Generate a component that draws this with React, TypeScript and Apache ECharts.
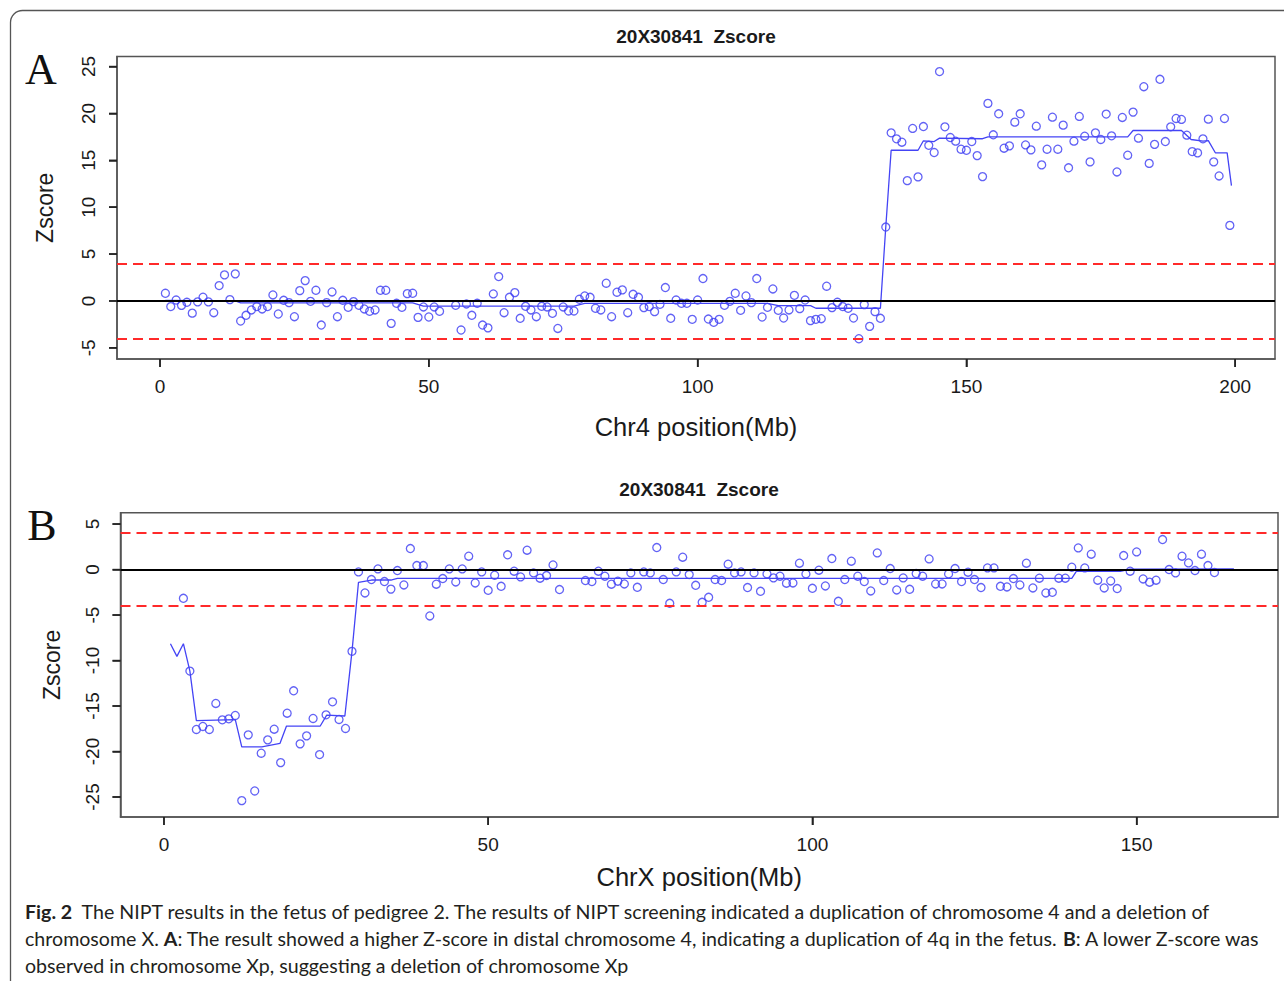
import React, { useEffect, useRef } from "react";
import * as echarts from "echarts";

// ---- Panel A: chromosome 4 ----
const chr4Pos = [
  1, 2, 3, 4, 5, 6, 7, 8, 9, 10, 11, 12, 13, 14, 15, 16, 17, 18, 19, 20,
  21, 22, 23, 24, 25, 26, 27, 28, 29, 30, 31, 32, 33, 34, 35, 36, 37, 38, 39, 40,
  41, 42, 43, 44, 45, 46, 47, 48, 49, 50, 51, 52,
  55, 56, 57, 58, 59, 60, 61, 62, 63, 64, 65, 66, 67, 68, 69, 70,
  71, 72, 73, 74, 75, 76, 77, 78, 79, 80, 81, 82, 83, 84, 85, 86, 87, 88, 89, 90,
  91, 92, 93, 94, 95, 96, 97, 98, 99, 100, 101, 102, 103, 104, 105, 106, 107, 108, 109, 110,
  111, 112, 113, 114, 115, 116, 117, 118, 119, 120, 121, 122, 123, 124, 125, 126, 127, 128, 129, 130,
  131, 132, 133, 134, 135, 136, 137, 138, 139, 140, 141, 142, 143, 144, 145, 146, 147, 148, 149, 150,
  151, 152, 153, 154, 155, 156, 157, 158, 159, 160, 161, 162, 163, 164, 165, 166, 167, 168, 169, 170,
  171, 172, 173, 174, 175, 176, 177, 178, 179, 180, 181, 182, 183, 184, 185, 186, 187, 188, 189, 190,
  191, 192, 193, 194, 195, 196, 197, 198, 199,
];
const chr4Z = [
  0.82, -0.6, 0.1, -0.47, -0.14, -1.3, -0.1, 0.4, -0.1, -1.25, 1.64, 2.78, 0.14, 2.89, -2.14, -1.53, -0.96, -0.6, -0.85, -0.6,
  0.64, -1.39, 0.07, -0.18, -1.68, 1.1, 2.17, -0.04, 1.14, -2.57, -0.18, 0.96, -1.68, 0.07, -0.68, -0.07, -0.46, -0.85, -1.1, -0.96,
  1.14, 1.14, -2.39, -0.25, -0.68, 0.78, 0.82, -1.75, -0.64, -1.71, -0.64, -1.1,
  -0.46, -3.1, -0.32, -1.53, -0.25, -2.57, -2.87, 0.75, 2.6, -1.25, 0.39, 0.89, -1.85, -0.57, -0.96, -1.68,
  -0.57, -0.64, -1.32, -2.93, -0.64, -1.07, -1.07, 0.18, 0.53, 0.39, -0.78, -0.96, 1.89, -1.68, 0.93, 1.18, -1.25, 0.71, 0.39, -0.71,
  -0.6, -1.14, -0.36, 1.43, -1.85, 0.1, -0.25, -0.25, -1.96, 0.1, 2.39, -1.93, -2.28, -1.96, -0.46, -0.04, 0.82, -1.0, 0.53, -0.18,
  2.39, -1.71, -0.68, 1.28, -1.0, -1.82, -0.96, 0.6, -0.82, 0.1, -2.1, -1.96, -1.89, 1.57, -0.71, -0.14, -0.6, -0.78, -1.82, -4.03,
  -0.39, -2.71, -1.14, -1.85, 7.88, 17.93, 17.29, 16.93, 12.83, 18.4, 13.23, 18.6, 16.6, 15.83, 24.46, 18.57, 17.43, 17.04, 16.18, 16.07,
  17.0, 15.5, 13.26, 21.07, 17.72, 19.96, 16.29, 16.54, 19.07, 19.96, 16.64, 16.11, 18.64, 14.51, 16.18, 19.6, 16.18, 18.75, 14.2, 17.04,
  19.68, 17.57, 14.83, 17.93, 17.22, 19.93, 17.61, 13.76, 19.57, 15.54, 20.14, 17.36, 22.85, 14.67, 16.7, 23.64, 17.0, 18.57, 19.46, 19.36,
  17.68, 15.93, 15.79, 17.29, 19.39, 14.83, 13.33, 19.46, 8.06,
];
const chr4SegPos = [1, 14, 15, 47, 49, 77, 79, 113, 115, 121, 122, 134, 135, 136, 141, 142, 144, 145, 153, 154, 180, 181, 190, 191.8, 194, 195, 196.3, 198.5, 199.3];
const chr4SegZ = [0.05, 0.0, -0.2, -0.2, -0.55, -0.55, -0.25, -0.25, -0.5, -0.5, -0.78, -0.78, 7.88, 16.07, 16.07, 17.08, 17.0, 17.36, 17.3, 17.5, 17.5, 18.18, 18.18, 17.22, 17.04, 17.1, 15.8, 15.8, 12.3];

// ---- Panel B: chromosome X ----
const chrXPos = [
  3, 4, 5, 6, 7, 8, 9, 10, 11, 12, 13, 14, 15, 16, 17, 18, 19, 20,
  21, 22, 23, 24, 25, 26, 27, 28, 29, 30, 31, 32, 33, 34, 35, 36, 37, 38, 39, 40,
  41, 42, 43, 44, 45, 46, 47, 48, 49, 50, 51, 52, 53, 54, 55, 56, 57, 58, 59, 60, 61,
  65, 66, 67, 68, 69, 70, 71, 72, 73, 74, 75, 76, 77, 78, 79, 80,
  81, 82, 83, 84, 85, 86, 87, 88, 89, 90, 91, 92, 93, 94, 95, 96, 97, 98, 99, 100,
  101, 102, 103, 104, 105, 106, 107, 108, 109, 110, 111, 112, 113, 114, 115, 116, 117, 118, 119, 120,
  121, 122, 123, 124, 125, 126, 127, 128, 129, 130, 131, 132, 133, 134, 135, 136, 137, 138, 139, 140,
  141, 142, 143, 144, 145, 146, 147, 148, 149, 150, 151, 152, 153, 154, 155, 156, 157, 158, 159, 160,
  161, 162,
];
const chrXZ = [
  -3.16, -11.16, -17.58, -17.25, -17.58, -14.72, -16.52, -16.41, -16.04, -25.4, -18.17, -24.34, -20.19, -18.72, -17.55, -21.22, -15.79, -13.33,
  -19.16, -18.28, -16.37, -20.34, -15.97, -14.54, -16.48, -17.47, -8.99, -0.26, -2.57, -1.1, 0.07, -1.32, -2.15, -0.11, -1.69, 2.31, 0.44, 0.44,
  -5.1, -1.61, -0.99, 0.07, -1.36, 0.07, 1.47, -1.47, -0.26, -2.28, -0.62, -1.84, 1.62, -0.18, -0.81, 2.13, -0.37, -0.95, -0.66, 0.51, -2.2,
  -1.21, -1.32, -0.18, -0.73, -1.61, -1.28, -1.58, -0.37, -1.95, -0.26, -0.37, 2.42, -1.1, -3.71, -0.26, 1.36,
  -0.55, -1.73, -3.6, -3.05, -1.1, -1.21, 0.59, -0.37, -0.26, -1.98, -0.37, -2.39, -0.48, -0.92, -0.73, -1.5, -1.47, 0.7, -0.48, -2.06,
  -0.07, -1.8, 1.21, -3.49, -1.1, 0.92, -0.73, -1.32, -2.35, 1.83, -1.21, 0.11, -2.24, -0.92, -2.17, -0.44, -0.73, 1.17, -1.58, -1.58,
  -0.48, 0.11, -1.32, -0.29, -1.1, -1.98, 0.18, 0.18, -1.84, -1.91, -0.99, -1.69, 0.7, -2.02, -0.95, -2.57, -2.5, -0.95, -0.95, 0.26,
  2.38, 0.18, 1.69, -1.17, -2.02, -1.25, -2.09, 1.54, -0.18, 1.94, -1.03, -1.39, -1.17, 3.3, 0.0, -0.37, 1.47, 0.73, -0.11, 1.69,
  0.44, -0.33,
];
const chrXSegPos = [1, 2, 3, 4, 5, 11, 12, 15.1, 17.9, 18.9, 24.1, 25.1, 27.9, 29, 30, 32, 35, 36, 140, 140.7, 147.5, 149, 165];
const chrXSegZ = [-8.15, -9.54, -8.15, -11.16, -16.6, -16.5, -19.5, -19.5, -19.1, -17.2, -17.2, -16.0, -16.1, -9.0, -1.4, -1.15, -1.15, -0.96, -0.96, -0.2, -0.2, 0.05, 0.08];

// ---- axes / labels ----
const chr4Ticks = [0, 50, 100, 150, 200];
const chrXTicks = [0, 50, 100, 150];
const chr4YTicks = [-5, 0, 5, 10, 15, 20, 25];
const chrXYTicks = [-25, -20, -15, -10, -5, 0, 5];
const chr4XRange = [-8.0, 207.4];
const chrXXRange = [-6.7, 171.8];
const chr4YRange = [-6.19, 26.07];
const chrXYRange = [-27.2, 6.25];
const thresholds = [4, -4];
const plotTitle = "20X30841  Zscore";
const captionLines = [
  "{b|Fig. 2}  The NIPT results in the fetus of pedigree 2. The results of NIPT screening indicated a duplication of chromosome 4 and a deletion of",
  "chromosome X. {b|A}: The result showed a higher Z-score in distal chromosome 4, indicating a duplication of 4q in the fetus. {b|B}: A lower Z-score was",
  "observed in chromosome Xp, suggesting a deletion of chromosome Xp",
];

const SANS = '"Liberation Sans", Arial, Helvetica, sans-serif';
const CAP = 'Lato, "Noto Sans", sans-serif';
const CAP_SIZE = 19.6;
const BLUE = "#3b3bf2";
const TXT = "#1a1a1a";
const FRAME = "#555";
const TICK_LEN = 8;
const TICK_COLOR = "#222";

function pairs(xs: number[], ys: number[]) {
  return xs.map((x, i) => [x, ys[i]]);
}

function xAxisCfg(gridIndex: number, range: number[], ticks: number[], name: string, nameGap: number) {
  return {
    type: "value",
    gridIndex,
    min: range[0],
    max: range[1],
    name,
    nameLocation: "middle",
    nameGap,
    nameTextStyle: { fontFamily: SANS, fontSize: 25.5, color: TXT },
    axisLine: { show: true, onZero: false, lineStyle: { color: FRAME, width: 1.5 } },
    splitLine: { show: false },
    axisTick: { show: true, customValues: ticks, length: TICK_LEN, lineStyle: { color: TICK_COLOR, width: 1.5 } },
    axisLabel: { customValues: ticks, margin: 18, fontFamily: SANS, fontSize: 19, color: TXT },
  };
}

function yAxisCfg(gridIndex: number, range: number[], ticks: number[], nameGap: number) {
  return {
    type: "value",
    gridIndex,
    min: range[0],
    max: range[1],
    name: "Zscore",
    nameLocation: "middle",
    nameGap,
    nameTextStyle: { fontFamily: SANS, fontSize: 23, color: TXT },
    axisLine: { show: true, onZero: false, lineStyle: { color: FRAME, width: 1.5 } },
    splitLine: { show: false },
    axisTick: { show: true, customValues: ticks, length: TICK_LEN, lineStyle: { color: TICK_COLOR, width: 1.5 } },
    axisLabel: { customValues: ticks, rotate: 90, margin: 19, fontFamily: SANS, fontSize: 19, color: TXT },
  };
}

function refLines() {
  return {
    silent: true,
    symbol: "none",
    label: { show: false },
    emphasis: { disabled: true },
    data: [
      { yAxis: 0, lineStyle: { color: "#000", width: 2, type: "solid" } },
      ...thresholds.map((t) => ({ yAxis: t, lineStyle: { color: "#ff2a2a", width: 2.2, type: [10, 6] } })),
    ],
  };
}

function panelSeries(idx: number, pos: number[], z: number[], segPos: number[], segZ: number[]) {
  return [
    {
      type: "scatter",
      xAxisIndex: idx,
      yAxisIndex: idx,
      data: pairs(pos, z),
      symbol: "circle",
      symbolSize: 8,
      itemStyle: { color: "rgba(0,0,0,0)", borderColor: BLUE, borderWidth: 1.3 },
      z: 2,
    },
    {
      type: "line",
      xAxisIndex: idx,
      yAxisIndex: idx,
      data: pairs(segPos, segZ),
      showSymbol: false,
      lineStyle: { color: "#4444f5", width: 1.3 },
      z: 3,
    },
    {
      type: "line",
      xAxisIndex: idx,
      yAxisIndex: idx,
      data: [],
      markLine: refLines(),
      z: 4,
    },
  ];
}

const centerText = (x: number, y: number, text: string, font: string, fill = TXT) => ({
  type: "text",
  x,
  y,
  style: { text, font, fill, align: "center", verticalAlign: "middle", textAlign: "center", textVerticalAlign: "middle" },
});

export default function App() {
  const ref = useRef<HTMLDivElement>(null);
  useEffect(() => {
    if (!ref.current) return;
    const chart = echarts.init(ref.current, null, { renderer: "svg" });
    const serif = 'normal 44px "Liberation Serif", "Times New Roman", serif';
    const baseGraphics: any[] = [
      {
        type: "rect",
        silent: true,
        shape: { x: 10.5, y: 10.5, width: 1330, height: 1030, r: 12 },
        style: { fill: "transparent", stroke: FRAME, lineWidth: 1.3 },
      },
      centerText(41, 69, "A", serif, "#111"),
      centerText(42, 525, "B", serif, "#111"),
      centerText(696, 36, plotTitle, `bold 19px ${SANS}`),
      centerText(699, 489, plotTitle, `bold 19px ${SANS}`),
      ...captionLines.map((line, i) => ({
        type: "text",
        x: 25,
        y: 911 + i * 27,
        style: {
          text: line,
          font: `normal ${CAP_SIZE}px ${CAP}`,
          fontSize: CAP_SIZE,
          fontFamily: CAP,
          fill: "#231f20",
          align: "left",
          verticalAlign: "middle",
          textAlign: "left",
          textVerticalAlign: "middle",
          rich: {
            b: { fontWeight: "bold", fontSize: CAP_SIZE, fontFamily: CAP, fill: "#231f20", color: "#231f20" },
          },
        },
      })),
    ];
    const option: any = {
      animation: false,
      grid: [
        { left: 117, top: 56.5, width: 1158, height: 302.5, show: true, borderColor: FRAME, borderWidth: 1.5 },
        { left: 120.5, top: 512.7, width: 1157.5, height: 304.3, show: true, borderColor: FRAME, borderWidth: 1.5 },
      ],
      xAxis: [
        xAxisCfg(0, chr4XRange, chr4Ticks, "Chr4 position(Mb)", 55),
        xAxisCfg(1, chrXXRange, chrXTicks, "ChrX position(Mb)", 47),
      ],
      yAxis: [
        yAxisCfg(0, chr4YRange, chr4YTicks, 61),
        yAxisCfg(1, chrXYRange, chrXYTicks, 57),
      ],
      series: [
        ...panelSeries(0, chr4Pos, chr4Z, chr4SegPos, chr4SegZ),
        ...panelSeries(1, chrXPos, chrXZ, chrXSegPos, chrXSegZ),
      ],
      graphic: baseGraphics,
    };
    chart.setOption(option);

    // axis ticks, also placed through the chart's own scales
    const tickGraphics: any[] = [];
    const addTicks = (gi: number, xt: number[], yt: number[], xr: number[], yr: number[]) => {
      xt.forEach((v) => {
        const p = chart.convertToPixel({ gridIndex: gi } as any, [v, yr[0]]) as number[];
        if (!p) return;
        tickGraphics.push({
          type: "line",
          silent: true,
          z: 100,
          shape: { x1: p[0], y1: p[1], x2: p[0], y2: p[1] + TICK_LEN },
          style: { stroke: TICK_COLOR, lineWidth: 1.5 },
        });
      });
      yt.forEach((v) => {
        const p = chart.convertToPixel({ gridIndex: gi } as any, [xr[0], v]) as number[];
        if (!p) return;
        tickGraphics.push({
          type: "line",
          silent: true,
          z: 100,
          shape: { x1: p[0] - TICK_LEN, y1: p[1], x2: p[0], y2: p[1] },
          style: { stroke: TICK_COLOR, lineWidth: 1.5 },
        });
      });
    };
    addTicks(0, chr4Ticks, chr4YTicks, chr4XRange, chr4YRange);
    addTicks(1, chrXTicks, chrXYTicks, chrXXRange, chrXYRange);
    chart.setOption({ graphic: [...baseGraphics, ...tickGraphics] });

    return () => chart.dispose();
  }, []);
  return (
    <div
      ref={ref}
      style={{ position: "fixed", left: 0, top: 0, width: 1284, height: 981, background: "#fff" }}
    />
  );
}
